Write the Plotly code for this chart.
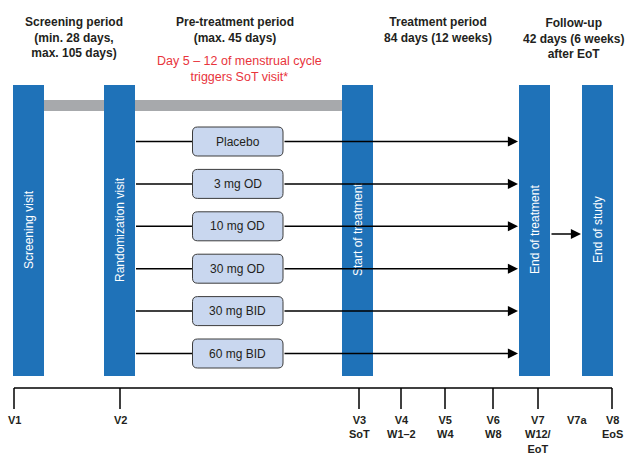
import plotly.graph_objects as go

# ---------------- data (content) ----------------
arms = ["Placebo", "3 mg OD", "10 mg OD", "30 mg OD", "30 mg BID", "60 mg BID"]
milestones = ["Screening visit", "Randomization visit", "Start of treatment",
              "End of treatment", "End of study"]
periods = ["Screening period<br>(min. 28 days,<br>max. 105 days)",
           "Pre-treatment period<br>(max. 45 days)",
           "Treatment period<br>84 days (12 weeks)",
           "Follow-up<br>42 days (6 weeks)<br>after EoT"]
trigger_note = "Day 5 \u2013 12 of menstrual cycle<br>triggers SoT visit*"
visit_names = ["V1", "V2", "V3", "V4", "V5", "V6", "V7", "V7a", "V8"]
visit_subs = ["", "", "SoT", "W1\u20132", "W4", "W8", "W12/<br>EoT", "", "EoS"]
visit_has_tick = [True, True, True, True, True, True, True, False, True]

# ---------------- layout (positions / styles) ----------------
W, H = 627, 454
BLUE = "#1f72b8"
GRAY = "#a7a9ac"
BOXFILL = "#c9d7ef"
TXT = "#231f20"
RED = "#e8343c"
FONT = "Liberation Sans, Arial, sans-serif"

ms_x = [13, 104, 342, 519, 582]     # left edge of milestone bars
ms_w = 31
ms_top, ms_bot = 85, 376
arm_y0, arm_dy = 141.5, 42.4
line_start = 136
box_x0, box_x1, box_h = 192.5, 283, 29
arrow_end = 518
period_x = [74, 235, 438, 573]
period_y = [12.5, 12.5, 12.5, 14]
visit_x = [14, 120, 359, 401, 445, 493, 538, 577, 612]
axis_y = 388
tick_len = 21

fig = go.Figure()
shapes = []
ann = []

# gray pre-treatment bar (behind blue bars)
shapes.append(dict(type="rect", x0=ms_x[0] + ms_w, x1=ms_x[2], y0=100, y1=111,
                   fillcolor=GRAY, line=dict(width=0), layer="below"))

# milestone bars
for name, x0 in zip(milestones, ms_x):
    shapes.append(dict(type="rect", x0=x0, x1=x0 + ms_w, y0=ms_top, y1=ms_bot,
                       fillcolor=BLUE, line=dict(width=0)))
    ann.append(dict(x=x0 + ms_w / 2, y=(ms_top + ms_bot) / 2 - 1, text=name,
                    textangle=-90, showarrow=False,
                    font=dict(family=FONT, size=12, color="white")))


def rounded(x0, y0, x1, y1, r):
    return (f"M{x0+r},{y0} L{x1-r},{y0} Q{x1},{y0} {x1},{y0+r} "
            f"L{x1},{y1-r} Q{x1},{y1} {x1-r},{y1} L{x0+r},{y1} "
            f"Q{x0},{y1} {x0},{y1-r} L{x0},{y0+r} Q{x0},{y0} {x0+r},{y0} Z")


# treatment arms
for i, arm in enumerate(arms):
    y = arm_y0 + i * arm_dy
    shapes.append(dict(type="line", x0=line_start, x1=box_x0, y0=y, y1=y,
                       line=dict(color="black", width=1.5)))
    shapes.append(dict(type="path",
                       path=rounded(box_x0, y - box_h / 2, box_x1, y + box_h / 2, 5),
                       fillcolor=BOXFILL, line=dict(color="#3c3c3c", width=1)))
    ann.append(dict(x=(box_x0 + box_x1) / 2, y=y, text=arm, showarrow=False,
                    font=dict(family=FONT, size=12, color=TXT)))
    ann.append(dict(x=arrow_end, y=y, ax=box_x1, ay=y, axref="x", ayref="y",
                    xref="x", yref="y", text="", showarrow=True,
                    arrowhead=2, arrowsize=1.35, arrowwidth=1.5,
                    arrowcolor="black"))

# EoT -> EoS arrow
ann.append(dict(x=ms_x[4] - 1, y=234, ax=ms_x[3] + ms_w, ay=234, axref="x",
                ayref="y", text="", showarrow=True, arrowhead=2,
                arrowsize=1.35, arrowwidth=1.5, arrowcolor="black"))

# period headers
for t, x, y in zip(periods, period_x, period_y):
    ann.append(dict(x=x, y=y, text=f"<b>{t}</b>", showarrow=False,
                    yanchor="top", align="center",
                    font=dict(family=FONT, size=12, color=TXT)))
ann.append(dict(x=239, y=52, text=trigger_note, showarrow=False, yanchor="top",
                align="center", font=dict(family=FONT, size=12.5, color=RED)))

# bottom visit timeline
shapes.append(dict(type="line", x0=visit_x[0], x1=visit_x[-1], y0=axis_y,
                   y1=axis_y, line=dict(color="black", width=1.5)))
for name, sub, x, tk in zip(visit_names, visit_subs, visit_x, visit_has_tick):
    if tk:
        shapes.append(dict(type="line", x0=x, x1=x, y0=axis_y,
                           y1=axis_y + tick_len,
                           line=dict(color="black", width=1.5)))
    label = name if not sub else f"{name}<br>{sub}"
    ann.append(dict(x=x, y=411.5, text=f"<b>{label}</b>", showarrow=False,
                    yanchor="top", align="center",
                    font=dict(family=FONT, size=11, color=TXT)))

fig.update_layout(
    width=W, height=H, margin=dict(l=0, r=0, t=0, b=0),
    paper_bgcolor="white", plot_bgcolor="white",
    xaxis=dict(range=[0, W], visible=False, fixedrange=True),
    yaxis=dict(range=[H, 0], visible=False, fixedrange=True),
    shapes=shapes, annotations=ann, showlegend=False,
)

fig.write_html("out.html", config={"displayModeBar": False},
               post_script="document.body.style.margin='0';"
                           "document.body.style.overflow='hidden';")
